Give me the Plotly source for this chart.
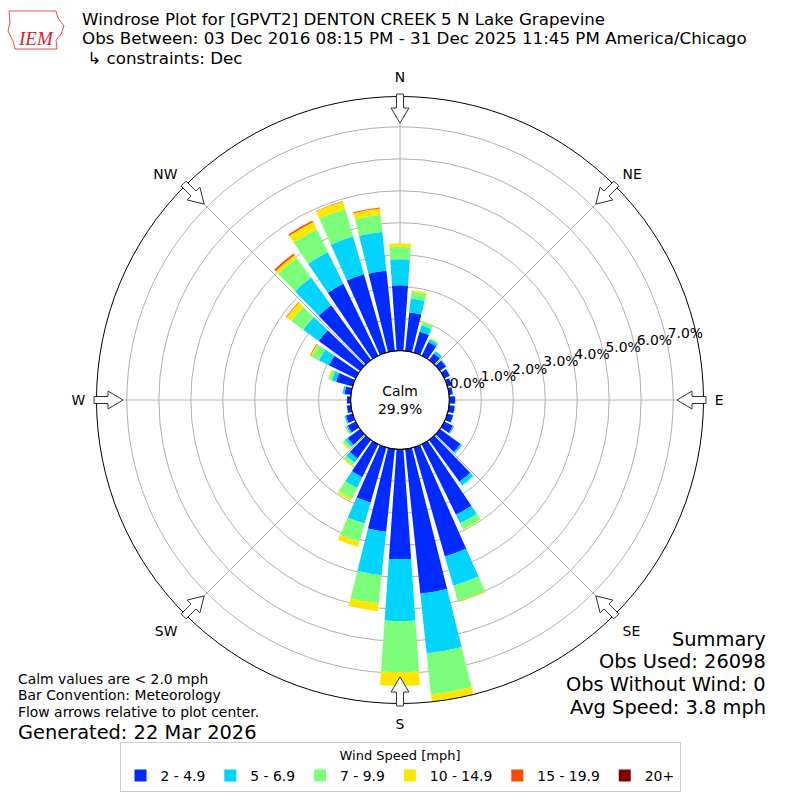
import math
import plotly.graph_objects as go

# Direction bins (degrees, meteorological convention) and speed bins
directions = list(range(0, 360, 10))
speed_bins = ["2 - 4.9", "5 - 6.9", "7 - 9.9", "10 - 14.9", "15 - 19.9", "20+"]
bin_colors = ["#002aff", "#00d4ff", "#7bff7b", "#ffe600", "#ff4800", "#800000"]

# Frequency [%] per direction for each speed bin
freq_2_5 = [2.05, 1.21, 0.68, 0.48, 0.26, 0.24, 0.19, 0.14, 0.12, 0.18, 0.18, 0.19,
            0.30, 0.80, 1.62, 2.45, 3.55, 4.55, 3.44, 2.60, 1.80, 1.15, 0.72, 0.48,
            0.28, 0.22, 0.13, 0.12, 0.20, 0.54, 0.93, 1.60, 2.12, 2.50, 2.55, 2.53]
freq_5_7 = [0.81, 0.44, 0.21, 0.09, 0.09, 0.02, 0.01, 0.00, 0.00, 0.01, 0.01, 0.01,
            0.04, 0.06, 0.14, 0.30, 0.95, 1.88, 1.93, 1.37, 0.68, 0.37, 0.16, 0.09,
            0.05, 0.04, 0.01, 0.00, 0.06, 0.14, 0.35, 0.60, 1.07, 1.10, 1.23, 1.22]
freq_7_10 = [0.39, 0.22, 0.11, 0.04, 0.01, 0.00, 0.00, 0.00, 0.00, 0.00, 0.00, 0.00,
             0.00, 0.01, 0.02, 0.21, 0.50, 1.29, 1.60, 0.89, 0.59, 0.38, 0.10, 0.09,
             0.04, 0.02, 0.00, 0.00, 0.00, 0.09, 0.25, 0.46, 0.76, 0.80, 0.89, 0.53]
freq_10_15 = [0.11, 0.05, 0.02, 0.01, 0.00, 0.00, 0.00, 0.00, 0.00, 0.00, 0.00, 0.00,
              0.00, 0.00, 0.00, 0.02, 0.02, 0.23, 0.43, 0.24, 0.17, 0.07, 0.04, 0.04,
              0.01, 0.00, 0.00, 0.00, 0.00, 0.04, 0.05, 0.19, 0.11, 0.25, 0.25, 0.20]
freq_15_20 = [0.00, 0.00, 0.00, 0.00, 0.00, 0.00, 0.00, 0.00, 0.00, 0.00, 0.00, 0.00,
              0.00, 0.00, 0.00, 0.00, 0.01, 0.00, 0.00, 0.00, 0.00, 0.00, 0.00, 0.00,
              0.00, 0.00, 0.00, 0.00, 0.00, 0.00, 0.02, 0.02, 0.06, 0.05, 0.01, 0.03]
freq_20_up = [0.00, 0.00, 0.00, 0.00, 0.00, 0.00, 0.00, 0.00, 0.00, 0.00, 0.00, 0.00,
              0.00, 0.00, 0.00, 0.00, 0.00, 0.00, 0.00, 0.00, 0.00, 0.00, 0.00, 0.00,
              0.00, 0.00, 0.00, 0.00, 0.00, 0.00, 0.00, 0.00, 0.00, 0.00, 0.00, 0.00]
all_freqs = [freq_2_5, freq_5_7, freq_7_10, freq_10_15, freq_15_20, freq_20_up]

compass_angles = [0, 45, 90, 135, 180, 225, 270, 315]
compass_labels = ["N", "NE", "E", "SE", "S", "SW", "W", "NW"]
radial_ticks = [0, 1, 2, 3, 4, 5, 6, 7]
radial_labels = ["0.0%", "1.0%", "2.0%", "3.0%", "4.0%", "5.0%", "6.0%", "7.0%"]

calm_pct = "29.9%"
title_lines = [
    "Windrose Plot for [GPVT2] DENTON CREEK 5 N Lake Grapevine",
    "Obs Between: 03 Dec 2016 08:15 PM - 31 Dec 2025 11:45 PM America/Chicago",
    " \u21b3 constraints: Dec",
]
summary_lines = ["Summary", "Obs Used: 26098", "Obs Without Wind: 0", "Avg Speed: 3.8 mph"]
notes_lines = ["Calm values are &lt; 2.0 mph", "Bar Convention: Meteorology",
               "Flow arrows relative to plot center."]
generated = "Generated: 22 Mar 2026"

FONT = "DejaVu Sans"
W = H = 800
R_PX = 303.5        # outer radius of the polar area in px
HOLE_PX = 49.3      # radius of the calm circle in px
RLABEL_THETA = 77   # compass direction of the radial tick labels
RLABEL_SHIFT = 0.62 # labels sit just outside their ring

fig = go.Figure()

for name, color, values in zip(speed_bins, bin_colors, all_freqs):
    fig.add_trace(go.Barpolar(
        r=values, theta=directions, width=8, name=name,
        marker=dict(color=color, line=dict(width=0)),
    ))

# black ring around the calm circle
ring_theta = list(range(0, 361, 2))
fig.add_trace(go.Scatterpolar(
    r=[0] * len(ring_theta), theta=ring_theta, mode="lines",
    line=dict(color="black", width=1.2), showlegend=False, hoverinfo="skip",
))

# radial tick labels (matplotlib style: just outside each ring)
fig.add_trace(go.Scatterpolar(
    r=[t + RLABEL_SHIFT for t in radial_ticks], theta=[RLABEL_THETA] * len(radial_ticks),
    text=radial_labels, mode="text", textposition="middle center",
    textfont=dict(family=FONT, size=13.9, color="black"),
    cliponaxis=False, showlegend=False, hoverinfo="skip",
))

dom = [(W / 2 - R_PX) / W, (W / 2 + R_PX) / W]

fig.update_layout(
    width=W, height=H,
    margin=dict(l=0, r=0, t=0, b=0),
    paper_bgcolor="white",
    font=dict(family=FONT, size=13.9, color="black"),
    polar=dict(
        domain=dict(x=dom, y=dom),
        hole=HOLE_PX / R_PX,
        bgcolor="white",
        barmode="stack",
        radialaxis=dict(
            range=[0, 7.95], tickmode="array", tickvals=radial_ticks,
            showticklabels=False, showline=False, ticks="",
            gridcolor="#b0b0b0", gridwidth=1,
        ),
        angularaxis=dict(
            rotation=90, direction="clockwise", tickmode="array",
            tickvals=compass_angles, ticktext=compass_labels,
            showline=True, linecolor="black", linewidth=1,
            gridcolor="#b0b0b0", gridwidth=1,
            ticks="outside", ticklen=8, tickcolor="rgba(0,0,0,0)",
            tickfont=dict(size=13.9),
        ),
    ),
    legend=dict(
        orientation="h", x=0.5, xanchor="center", y=1 - 742 / H, yanchor="top",
        bordercolor="#cccccc", borderwidth=1, font=dict(size=13.9),
        title=dict(text="Wind Speed [mph]", side="top center", font=dict(size=13)),
        traceorder="normal",
    ),
    showlegend=True,
)

# flow arrows at each compass point, pointing at the plot center
arrow_shape = [(306, -3.5), (292, -3.5), (292, -9), (277, 0), (292, 9), (292, 3.5), (306, 3.5)]
for ang in compass_angles:
    t = math.radians(ang)
    pts = []
    for u, v in arrow_shape:
        px = W / 2 + u * math.sin(t) + v * math.cos(t)
        py = H / 2 - u * math.cos(t) + v * math.sin(t)
        pts.append((px / W, 1 - py / H))
    path = "M " + " L ".join(f"{x:.5f},{y:.5f}" for x, y in pts) + " Z"
    fig.add_shape(type="path", path=path, xref="paper", yref="paper",
                  fillcolor="white", line=dict(color="#333333", width=1), layer="above")


def add_text(text, x_px, y_px, size, xanchor="left", family=FONT, color="black"):
    fig.add_annotation(text=text, x=x_px / W, y=1 - y_px / H, xref="paper", yref="paper",
                       xanchor=xanchor, yanchor="middle", showarrow=False,
                       font=dict(family=family, size=size, color=color))


# title block
for i, line in enumerate(title_lines):
    add_text(line, 80, 19 + 19.4 * i, 16.7)

# logo stand-in: rough state outline plus the letters
logo_outline = [(9, 11), (56, 11), (58, 18), (64, 26), (61, 34), (56, 40), (57, 49),
                (15, 49), (13, 41), (8, 31), (10, 22)]
fig.add_shape(type="path", xref="paper", yref="paper",
              path="M " + " L ".join(f"{x / W:.5f},{1 - y / H:.5f}" for x, y in logo_outline) + " Z",
              line=dict(color="#d8232a", width=0.8), fillcolor="rgba(0,0,0,0)")
add_text("<i>IEM</i>", 36, 39, 19, xanchor="center", family="Liberation Serif", color="#d8232a")

# calm label in the middle
add_text("Calm<br>" + calm_pct, 400, 400, 13.9, xanchor="center")

# summary block (right)
for i, line in enumerate(summary_lines):
    add_text(line, 768, 639 + 22.7 * i, 19.4, xanchor="right")

# notes block (left)
for i, line in enumerate(notes_lines):
    add_text(line, 16, 679 + 16.3 * i, 13.9)
add_text(generated, 16, 732, 19.4)

# page body has a default margin; remove it so the figure sits at the window corner
fig.write_html("out.html", config=dict(displayModeBar=False),
               post_script="document.body.style.margin='0px';")
